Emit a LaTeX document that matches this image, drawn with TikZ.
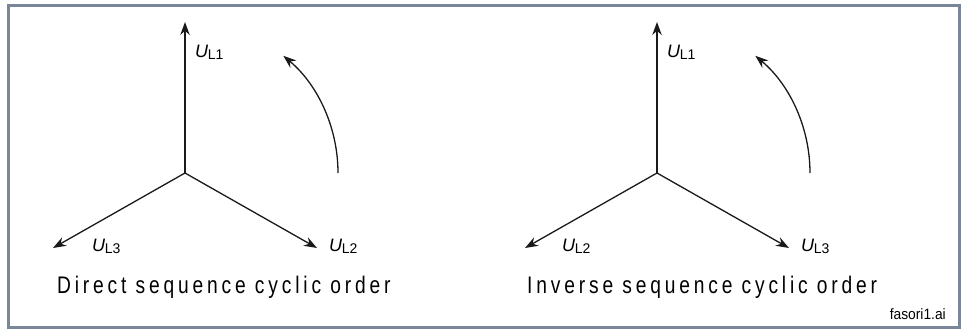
\documentclass[tikz,border=0pt]{standalone}
\usepackage{fontspec}
\setmainfont{Liberation Sans}
\newfontfamily\capfont[FakeStretch=0.8,LetterSpace=16]{Liberation Sans}
\newfontfamily\tagfont[FakeStretch=0.92]{Liberation Sans}
\usepackage{xcolor}
\definecolor{cFrame}{HTML}{7A869A}
\definecolor{cInk}{HTML}{1A1A1A}
\usetikzlibrary{positioning,arrows.meta}
\tikzset{
  phasor/.style={-{Stealth[length=13pt,width=9.5pt]},line width=1.3pt,draw=cInk},
  rot-arrow/.style={-{Stealth[length=13pt,width=9.5pt]},line width=1.3pt,draw=cInk},
  frame-box/.style={draw=cFrame,line width=3pt},
  phasor-label/.style={font=\fontsize{18}{18}\selectfont,inner sep=0pt,anchor=west},
  caption-text/.style={font=\capfont\fontsize{24}{24}\selectfont,inner sep=0pt,anchor=base west},
  file-tag/.style={font=\tagfont\fontsize{15}{15}\selectfont,inner sep=0pt,anchor=base east},
}
\newcommand{\ulab}[1]{\textit{U}\kern-0.5pt{\fontsize{14}{14}\selectfont\raisebox{-2pt}{L#1}}}

\begin{document}
\begin{tikzpicture}[x=1pt,y=-1pt]
  \useasboundingbox (0,0) rectangle (962,329);
  \draw[frame-box] (8.5,5.5) rectangle (959.5,327.5);

  % direct sequence
  \coordinate (o1) at (185,173);
  \coordinate (d1) at (185,22);
  \coordinate (d2) at (317,248);
  \coordinate (d3) at (53,248);
  \coordinate (r1) at (338,173);
  \draw[phasor] (o1) -- (d1);
  \draw[phasor] (o1) -- (d2);
  \draw[phasor] (o1) -- (d3);
  \draw[rot-arrow] (r1) arc[start angle=0,end angle=-50,radius=153];
  \node[phasor-label] (d1-lab) at (195,52) {\ulab{1}};
  \node[phasor-label] (d2-lab) at (329,246) {\ulab{2}};
  \node[phasor-label] (d3-lab) at (92,246) {\ulab{3}};
  \node[caption-text] (d-cap) at (57,293) {Direct sequence cyclic order};

  % inverse sequence
  \coordinate (o2) at (657,173);
  \coordinate (i1) at (657,22);
  \coordinate (i3) at (789,248);
  \coordinate (i2) at (525,248);
  \coordinate (r2) at (810,173);
  \draw[phasor] (o2) -- (i1);
  \draw[phasor] (o2) -- (i2);
  \draw[phasor] (o2) -- (i3);
  \draw[rot-arrow] (r2) arc[start angle=0,end angle=-50,radius=153];
  \node[phasor-label] (i1-lab) at (667,52) {\ulab{1}};
  \node[phasor-label] (i2-lab) at (562,246) {\ulab{2}};
  \node[phasor-label] (i3-lab) at (801,246) {\ulab{3}};
  \node[caption-text] (i-cap) at (527,293) {Inverse sequence cyclic order};

  \node[file-tag] (tag) at (946,319) {fasori1.ai};
\end{tikzpicture}
\end{document}
